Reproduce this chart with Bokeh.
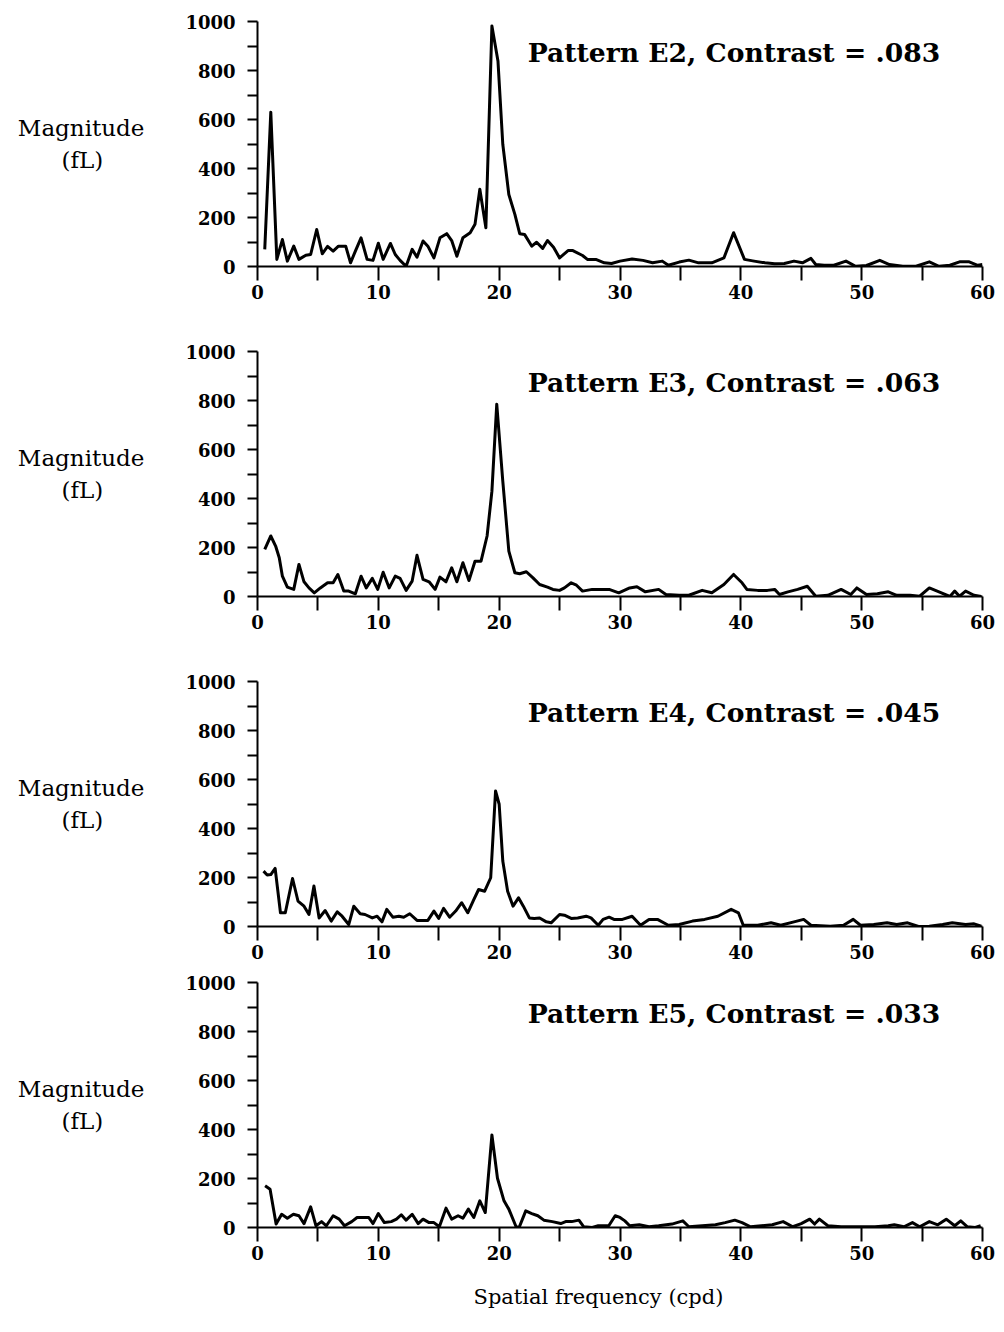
from bokeh.plotting import figure
from bokeh.layouts import column
from bokeh.models import FixedTicker, Label, Range1d, Title
from bokeh.embed import file_html
from bokeh.resources import INLINE

# ---------------- data ----------------
titles = ["Pattern E2, Contrast = .083", "Pattern E3, Contrast = .063",
          "Pattern E4, Contrast = .045", "Pattern E5, Contrast = .033"]

freq_e2 = [0.6, 1.1, 1.6, 2.06, 2.47, 3.0, 3.43, 4.0, 4.4, 4.9, 5.36, 5.8, 6.26, 6.7, 7.3, 7.7, 8.1, 8.57,
           9.07, 9.56, 10.0, 10.4, 11.0, 11.4, 11.8, 12.3, 12.8, 13.2, 13.7, 14.1, 14.6, 15.1, 15.66, 16.07,
           16.5, 17.0, 17.6, 18.0, 18.4, 18.9, 19.4, 19.9, 20.3, 20.8, 21.3, 21.7, 22.1, 22.7, 23.1, 23.6,
           24.0, 24.5, 25.0, 25.7, 26.1, 26.9, 27.3, 28.0, 28.7, 29.3, 30.0,
           31.0, 31.9, 32.7, 33.5, 34.0, 34.9, 35.7, 36.5, 37.6, 38.6, 39.4, 40.3, 41.1, 42.0, 42.8, 43.6,
           44.4, 45.1, 45.8, 46.2, 46.9, 47.7, 48.7, 49.5, 50.4, 51.5, 52.3, 53.4, 54.5, 55.6, 56.4, 57.3,
           58.1, 58.9, 59.6, 60.0]
mag_e2 = [70, 630, 29, 110, 22, 83, 29, 46, 49, 151, 52, 82, 63, 83, 83, 15, 63, 117,
          29, 25, 95, 29, 94, 49, 25, 1, 70, 38, 104, 83, 35, 117, 134, 106,
          42, 117, 138, 172, 315, 158, 982, 839, 499, 294, 213, 134, 131, 83, 99, 74,
          106, 79, 35, 65, 65, 45, 29, 29, 15, 12, 22,
          31, 25, 15, 22, 5, 18, 26, 15, 15, 35, 138, 29, 22, 15, 11, 12,
          22, 15, 33, 8, 5, 5, 22, 1, 4, 25, 8, 1, 1, 19, 1, 5,
          19, 19, 5, 8]

freq_e3 = [0.6, 1.1, 1.5, 1.8, 2.06, 2.47, 3.0, 3.43, 3.85, 4.26, 4.7, 5.2, 5.8, 6.26, 6.65, 7.14, 7.55, 8.1,
           8.57, 9.0, 9.5, 9.95, 10.4, 10.9, 11.4, 11.8, 12.3, 12.8, 13.2, 13.7, 14.2, 14.7, 15.1, 15.6, 16.07,
           16.5, 17.0, 17.5, 18.0, 18.5, 19.0, 19.4, 19.8, 20.3, 20.8, 21.3, 21.7, 22.25, 22.8, 23.35, 24.0,
           24.45, 25.0, 25.4, 25.96, 26.4, 26.9, 27.7, 28.6, 29.1, 29.9,
           30.8, 31.4, 32.1, 33.2, 33.8, 34.9, 35.7, 36.8, 37.6, 38.6, 39.4, 40.1, 40.5, 41.4, 42.2, 42.8,
           43.2, 43.9, 44.7, 45.5, 46.2, 47.2, 48.3, 49.1, 49.6, 50.4, 51.3, 52.2, 52.9, 54.0, 54.8, 55.6,
           56.4, 57.3, 57.7, 58.1, 58.6, 59.3, 59.9]
mag_e3 = [192, 247, 206, 158, 83, 38, 29, 131, 60, 35, 15, 35, 56, 56, 90, 22, 22, 11,
          83, 35, 74, 29, 99, 35, 83, 74, 25, 63, 168, 70, 60, 29, 79, 60, 117,
          60, 138, 65, 144, 144, 247, 430, 785, 471, 185, 97, 93, 101, 76, 49, 38,
          29, 25, 35, 56, 46, 22, 29, 29, 29, 15,
          35, 40, 19, 29, 8, 5, 5, 25, 15, 49, 90, 56, 29, 25, 25, 29,
          8, 19, 29, 42, 1, 5, 29, 8, 35, 8, 11, 19, 5, 5, 1, 35,
          19, 0, 22, 1, 22, 5, 0]

freq_e4 = [0.5, 0.8, 1.1, 1.46, 1.9, 2.3, 2.9, 3.35, 3.85, 4.26, 4.67, 5.1, 5.6, 6.1, 6.6, 7.0, 7.55, 7.97,
           8.5, 8.9, 9.5, 9.9, 10.3, 10.7, 11.2, 11.7, 12.1, 12.6, 13.2, 13.7, 14.1, 14.6, 15.0, 15.4, 15.9,
           16.4, 16.9, 17.4, 17.9, 18.3, 18.8, 19.3, 19.7, 20.0, 20.3, 20.7, 21.15, 21.6, 22.0, 22.5, 22.9,
           23.35, 23.9, 24.3, 25.0, 25.4, 25.96, 26.5, 27.2, 27.6, 28.2, 28.6, 29.1, 29.5, 29.9,
           30.2, 31.0, 31.7, 32.4, 33.1, 34.0, 34.9, 36.0, 37.0, 38.1, 39.2, 39.8, 40.2, 41.4, 42.5, 43.3,
           44.4, 45.2, 45.8, 47.4, 48.5, 49.3, 49.9, 51.0, 52.1, 52.9, 53.8, 54.7, 55.6, 56.7, 57.5, 58.6,
           59.3, 59.9]
mag_e4 = [226, 210, 212, 237, 56, 56, 196, 104, 83, 49, 165, 35, 65, 22, 60, 42, 8, 83,
          52, 49, 35, 42, 19, 70, 38, 42, 38, 52, 25, 25, 25, 63, 33, 74, 38,
          63, 97, 56, 110, 151, 144, 199, 553, 499, 267, 144, 83, 117, 83, 35, 33,
          35, 19, 15, 49, 46, 33, 35, 42, 35, 5, 29, 38, 29, 29,
          29, 42, 5, 29, 29, 5, 8, 22, 29, 42, 70, 56, 5, 5, 15, 5,
          19, 29, 5, 1, 5, 29, 5, 8, 15, 8, 15, 0, 1, 8, 15, 8,
          11, 1]

freq_e5 = [0.63, 1.04, 1.54, 2.0, 2.47, 2.97, 3.43, 3.85, 4.4, 4.84, 5.3, 5.7, 6.26, 6.76, 7.2, 7.8, 8.24, 8.8,
           9.2, 9.56, 10.0, 10.5, 11.07, 11.5, 11.9, 12.3, 12.8, 13.3, 13.7, 14.2, 14.6, 15.05, 15.6, 16.07,
           16.6, 17.0, 17.45, 17.9, 18.4, 18.85, 19.4, 19.86, 20.4, 20.8, 21.4, 21.65, 22.2, 22.7, 23.2, 23.7,
           24.4, 25.1, 25.5, 26.0, 26.6, 27.0, 27.7, 28.2, 29.07, 29.6, 30.0,
           30.4, 30.8, 31.6, 32.4, 33.2, 34.3, 35.2, 35.7, 36.8, 37.9, 38.7, 39.5, 40.1, 40.8, 41.7, 42.6,
           43.5, 44.3, 45.0, 45.7, 46.1, 46.5, 47.2, 48.3, 50.0, 51.1, 52.2, 52.7, 53.5, 54.2, 54.8, 55.6,
           56.3, 57.0, 57.7, 58.2, 58.75, 59.4, 59.85]
mag_e5 = [170, 156, 14, 54, 38, 54, 48, 16, 84, 7, 24, 7, 48, 34, 7, 24, 41, 41,
          41, 16, 57, 20, 24, 34, 52, 30, 54, 16, 34, 20, 20, 3, 79, 34,
          48, 38, 75, 41, 109, 61, 378, 201, 109, 75, 3, 0, 68, 57, 48, 30,
          24, 16, 24, 24, 30, 3, 0, 7, 7, 48, 41,
          27, 7, 11, 3, 7, 14, 27, 3, 7, 11, 20, 30, 20, 3, 7, 11,
          24, 3, 16, 34, 14, 34, 7, 3, 3, 3, 7, 11, 3, 20, 3, 24,
          11, 34, 7, 27, 3, 0, 7]

x_ticks = [0, 10, 20, 30, 40, 50, 60]
x_minor = [5, 15, 25, 35, 45, 55]
y_ticks = [0, 200, 400, 600, 800, 1000]
y_minor = [100, 300, 500, 700, 900]

# second line padded with non-breaking spaces so that it sits centred under the first
y_label = "Magnitude\n(fL)" + "\u00a0" * 5 + "\u2009"
x_label = "Spatial frequency (cpd)"

series = [(freq_e2, mag_e2), (freq_e3, mag_e3), (freq_e4, mag_e4), (freq_e5, mag_e5)]

# ---------------- layout ----------------
SERIF = "DejaVu Serif"
heights = [336, 330, 301, 363]
tops = [21, 15, 15, 15]
lefts = [257, 257, 257, 254]
FRAME_W = 728
FRAME_H = 245
WIDTH = 996

figs = []
for i, (fx, my) in enumerate(series):
    h = heights[i]
    p = figure(width=WIDTH, height=h, output_backend="svg", toolbar_location=None,
               x_range=Range1d(0, 60), y_range=Range1d(0, 1000),
               min_border_left=lefts[i], min_border_right=WIDTH - lefts[i] - FRAME_W,
               min_border_top=tops[i], min_border_bottom=h - tops[i] - FRAME_H,
               tools="")
    p.outline_line_color = None
    p.xgrid.visible = False
    p.ygrid.visible = False
    p.background_fill_color = "white"
    p.border_fill_color = "white"

    p.line(fx, my, line_color="black", line_width=3, line_join="round")

    for ax in (p.xaxis[0], p.yaxis[0]):
        ax.axis_line_width = 2
        ax.axis_line_color = "black"
        ax.major_tick_line_width = 2
        ax.minor_tick_line_width = 2
        ax.major_tick_line_color = "black"
        ax.minor_tick_line_color = "black"
        ax.major_tick_in = 0
        ax.minor_tick_in = 0
        ax.major_label_text_font = SERIF
        ax.major_label_text_font_style = "bold"
        ax.major_label_text_font_size = "18px"
        ax.major_label_text_color = "black"

    p.xaxis.ticker = FixedTicker(ticks=x_ticks, minor_ticks=x_minor)
    p.xaxis.major_tick_out = 14
    p.xaxis.minor_tick_out = 14
    p.xaxis.major_label_standoff = 4

    p.yaxis.ticker = FixedTicker(ticks=y_ticks, minor_ticks=y_minor)
    p.yaxis.major_tick_out = 10
    p.yaxis.minor_tick_out = 10
    p.yaxis.major_label_standoff = 12
    p.yaxis.axis_label = y_label
    p.yaxis.axis_label_orientation = "horizontal"
    p.yaxis.axis_label_text_align = "center"
    p.yaxis.axis_label_text_font = SERIF
    p.yaxis.axis_label_text_font_style = "normal"
    p.yaxis.axis_label_text_font_size = "23px"
    p.yaxis.axis_label_text_color = "black"
    p.yaxis.axis_label_standoff = 38

    p.add_layout(Label(x=56.5, y=873, text=titles[i], text_align="right", text_baseline="middle",
                       text_font=SERIF, text_font_style="bold", text_font_size="26.6px",
                       text_color="black"))
    if i == 3:
        p.add_layout(Title(text=x_label, align="left", offset=216, standoff=41,
                           text_font=SERIF, text_font_style="normal", text_font_size="21px",
                           text_color="black"), "below")
    figs.append(p)

layout = column(*figs, spacing=0)
open("out.html", "w").write(file_html(layout, INLINE))
